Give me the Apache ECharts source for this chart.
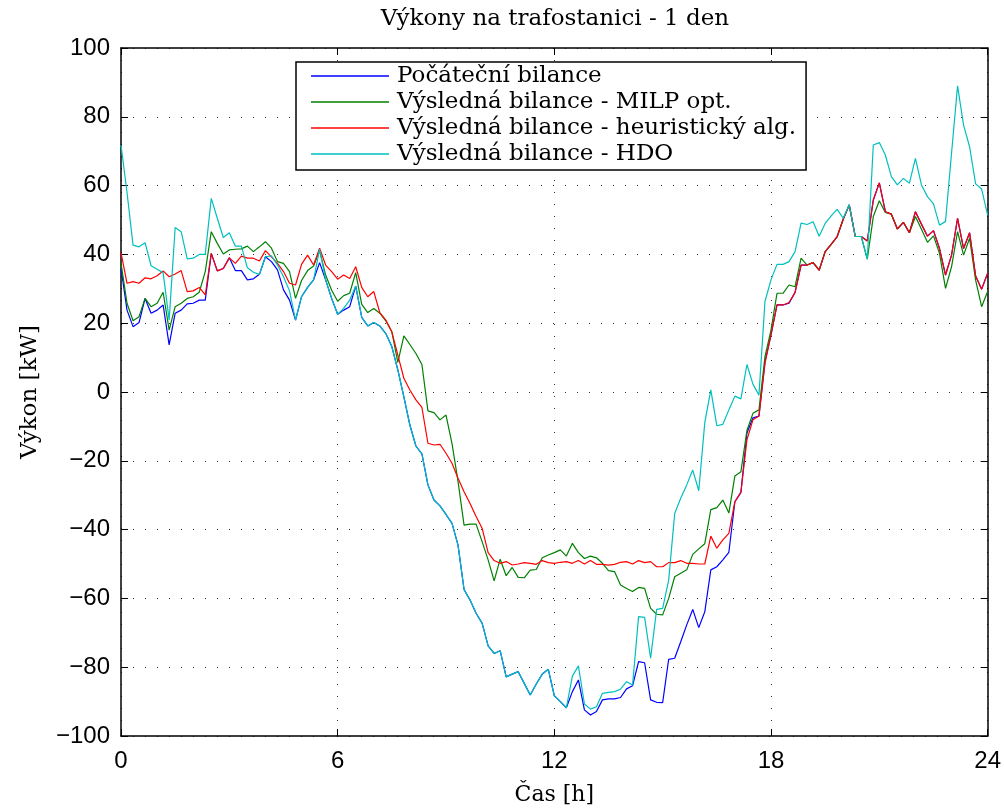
<!DOCTYPE html>
<html>
<head>
<meta charset="utf-8">
<title>Výkony na trafostanici</title>
<script src="https://cdn.jsdelivr.net/npm/echarts@6/dist/echarts.min.js"></script>
<style>
  html, body { margin: 0; padding: 0; background: #fff; }
  #chart { width: 1004px; height: 812px; }
</style>
</head>
<body>
<div id="chart"></div>
<script>
// vzorky po 10 minutach, 0 .. 24 h
const stepHours = 1 / 6;

// Počáteční bilance [kW]
const pocatecni = [
  36, 23.8, 19.0, 20.2, 27.2, 22.9, 23.8, 25.3, 13.7, 22.9,
  23.8, 25.6, 25.8, 26.7, 26.7, 40.3, 35.2, 35.9, 39.0, 35.3,
  35.3, 32.6, 32.9, 34.2, 39.3, 37.9, 35.5, 29.7, 26.7, 20.9,
  27.7, 30.4, 32.6, 37.6, 32.6, 27.2, 22.6, 23.8, 24.8, 30.8,
  21.7, 19.2, 20.2, 19.2, 17.0, 13.2, 6.4, -1.4, -9.6, -15.7,
  -18.0, -27.0, -31.4, -33.1, -35.6, -38.2, -44.5, -57.4, -60.5, -64.3,
  -67.2, -73.8, -76.0, -75.2, -82.8, -82.0, -81.3, -84.7, -88.1, -84.9,
  -82.0, -80.6, -88.3, -90.0, -91.8, -87.1, -83.7, -92.4, -93.9, -92.9,
  -89.5, -89.2, -89.2, -88.8, -86.3, -85.4, -78.4, -78.7, -89.5, -90.2,
  -90.3, -77.7, -77.4, -72.6, -67.7, -63.2, -68.5, -63.9, -51.7, -50.8,
  -48.8, -46.6, -31.9, -29.2, -12.0, -7.5, -7.0, 8.8, 16.6, 25.3,
  25.3, 25.8, 29.0, 36.9, 36.9, 37.6, 35.4, 40.8, 42.9, 45.2,
  50.2, 54.4, 45.2, 45.2, 43.9, 55.8, 60.8, 52.4, 51.7, 47.4,
  49.3, 46.3, 52.4, 48.8, 45.3, 46.9, 41.7, 34.0, 39.8, 50.5,
  41.7, 46.3, 33.7, 29.9, 34.5
];

// Výsledná bilance - MILP opt.
const milp = [
  37.5, 25.8, 20.7, 21.9, 27.2, 24.8, 25.8, 29.0, 18.0, 24.8,
  25.8, 27.2, 27.7, 29.0, 35.0, 46.6, 43.2, 40.1, 41.3, 41.5,
  41.6, 42.4, 40.8, 42.2, 43.7, 41.8, 37.9, 37.4, 35.0, 27.2,
  32.4, 35.3, 36.6, 41.1, 34.0, 29.6, 26.4, 28.0, 28.7, 34.7,
  25.5, 23.1, 24.3, 22.9, 20.7, 17.5, 8.6, 16.3, 13.8, 11.2,
  8.0, -5.5, -6.0, -8.1, -6.7, -15.0, -26.0, -38.7, -38.4, -38.4,
  -43.5, -48.8, -54.9, -48.6, -53.4, -51.0, -53.9, -54.0, -51.8, -51.6,
  -48.2, -47.4, -46.7, -45.9, -47.7, -44.0, -46.7, -48.4, -47.7, -48.2,
  -49.8, -51.9, -52.2, -56.1, -57.1, -58.0, -56.8, -57.1, -62.9, -64.6,
  -64.8, -60.0, -53.7, -52.7, -51.7, -47.2, -45.6, -44.1, -34.2, -33.6,
  -31.4, -35.2, -24.4, -23.2, -11.2, -6.2, -5.2, 10.3, 18.0, 28.7,
  28.7, 31.1, 30.6, 38.9, 36.9, 37.6, 35.4, 40.8, 42.9, 45.2,
  50.2, 54.4, 45.2, 45.2, 38.6, 51.0, 55.6, 52.2, 51.7, 47.4,
  49.3, 46.3, 51.0, 47.3, 43.5, 45.4, 40.3, 30.1, 36.4, 46.6,
  39.8, 44.7, 32.5, 24.8, 29.2
];

// Výsledná bilance - heuristický alg.
const heuristika = [
  40.5, 31.6, 32.1, 31.6, 33.2, 32.9, 33.8, 35.2, 33.5, 34.3,
  35.3, 29.2, 29.4, 30.4, 28.2, 40.3, 35.2, 35.9, 39.0, 37.4,
  39.5, 38.9, 38.9, 38.1, 41.1, 39.3, 37.4, 35.0, 31.6, 31.1,
  37.1, 39.8, 36.9, 41.8, 36.9, 35.0, 32.8, 34.0, 33.0, 36.4,
  30.4, 27.7, 29.2, 23.1, 20.9, 17.5, 10.7, 4.0, 0.6, -2.3,
  -4.5, -14.9, -15.4, -15.2, -17.8, -20.7, -25.1, -29.0, -32.4, -36.2,
  -39.6, -46.7, -49.0, -49.8, -49.3, -50.3, -50.0, -49.6, -49.8, -50.1,
  -49.0, -49.6, -49.8, -49.5, -49.3, -49.8, -49.0, -50.0, -49.0, -50.1,
  -50.1, -50.3, -50.1, -49.5, -49.3, -50.0, -49.0, -49.6, -49.3, -50.8,
  -50.8, -49.6, -49.6, -49.0, -49.8, -49.8, -50.0, -50.0, -41.9, -45.4,
  -43.0, -41.1, -31.9, -29.2, -13.9, -8.1, -7.0, 8.3, 16.6, 25.3,
  25.3, 26.0, 28.9, 36.9, 36.9, 37.6, 35.4, 40.8, 42.9, 45.2,
  50.2, 54.4, 45.2, 45.2, 43.9, 55.8, 60.8, 52.4, 51.7, 47.4,
  49.3, 46.3, 52.4, 48.8, 45.3, 46.9, 41.7, 34.0, 39.8, 50.5,
  41.7, 46.3, 33.7, 29.9, 34.5
];

// Výsledná bilance - HDO
const hdo = [
  71.8, 58, 42.7, 42.2, 43.4, 36.7, 35.7, 34.7, 20.9, 47.8,
  46.6, 38.7, 38.9, 40.0, 40.0, 56.3, 50.5, 44.9, 46.3, 42.4,
  42.4, 36.1, 34.8, 34.2, 39.3, 39.6, 36.9, 33.5, 29.4, 20.9,
  27.7, 30.4, 32.6, 41.5, 32.6, 27.2, 22.6, 24.3, 26.7, 30.8,
  21.7, 19.2, 20.2, 19.2, 17.0, 13.2, 6.4, -1.4, -9.6, -15.7,
  -18.0, -27.0, -31.4, -33.1, -35.6, -38.2, -44.5, -57.4, -60.5, -64.3,
  -67.2, -73.8, -76.0, -75.2, -82.8, -82.0, -81.3, -84.7, -88.1, -84.9,
  -82.0, -80.6, -88.3, -90.0, -91.8, -82.6, -79.6, -90.7, -92.2, -91.5,
  -87.6, -87.3, -87.1, -86.4, -84.2, -85.2, -65.3, -65.5, -77.4, -63.2,
  -62.9, -54.7, -35.3, -30.9, -27.0, -22.7, -28.7, -8.9, 0.6, -9.8,
  -9.4, -5.2, -1.2, -2.0, 8.0, 2.3, -0.9, 26.3, 32.6, 37.1,
  37.1, 37.9, 40.8, 49.1, 48.7, 49.5, 45.3, 49.0, 51.2, 53.1,
  50.5, 54.4, 45.2, 45.2, 38.6, 71.8, 72.5, 68.9, 62.6, 60.2,
  62.1, 60.7, 67.9, 60.2, 56.8, 54.7, 48.5, 49.6, 69.4, 89.0,
  77.6, 71.3, 60.5, 59.0, 51.4
];

const seriesNames = [
  'Počáteční bilance',
  'Výsledná bilance - MILP opt.',
  'Výsledná bilance - heuristický alg.',
  'Výsledná bilance - HDO'
];
const seriesColors = ['#0000ff', '#008000', '#ff0000', '#00bfbf'];
const xTicks = [0, 6, 12, 18, 24];
const yTicks = [-100, -80, -60, -40, -20, 0, 20, 40, 60, 80, 100];

const serif = 'DejaVu Serif';
const sans = 'Liberation Sans, Arial, sans-serif';

// dvojice [cas, hodnota]
function toPairs(values) {
  return values.map((v, i) => [i * stepHours, v]);
}

const chart = echarts.init(document.getElementById('chart'));

const gridDots = { color: '#333', width: 1, type: [1, 11] };
// ramecek kolem grafu - osy nesmi skakat na nulu
const boxLine = { show: true, onZero: false, lineStyle: { color: '#000', width: 1.5 } };
const innerTick = { show: true, inside: true, length: 7, lineStyle: { color: '#000', width: 1 } };

const option = {
  animation: false,
  backgroundColor: '#fff',
  title: {
    text: 'Výkony na trafostanici - 1 den',
    left: 555,
    top: 8,
    padding: 0,
    textAlign: 'center',
    textStyle: { fontFamily: serif, fontSize: 23, fontWeight: 'normal', color: '#000' }
  },
  grid: { left: 121, top: 48, right: 15, bottom: 76, containLabel: false },
  legend: {
    orient: 'vertical',
    left: 296,
    top: 62,
    padding: [1, 10, 3, 15],
    itemGap: 0,
    itemWidth: 78,
    itemHeight: 1.5,
    icon: 'rect',
    borderColor: '#000',
    borderWidth: 1.5,
    backgroundColor: '#fff',
    data: seriesNames,
    textStyle: { fontFamily: serif, fontSize: 23, lineHeight: 26, color: '#000', padding: [0, 0, 0, 3] }
  },
  xAxis: [
    {
      type: 'value',
      min: xTicks[0],
      max: xTicks[xTicks.length - 1],
      interval: 6,
      position: 'bottom',
      name: 'Čas [h]',
      nameLocation: 'middle',
      nameGap: 48,
      nameTextStyle: { fontFamily: serif, fontSize: 22, color: '#000' },
      axisLine: boxLine,
      axisTick: innerTick,
      axisLabel: { fontFamily: sans, fontSize: 24, color: '#000', margin: 13 },
      splitLine: { show: true, lineStyle: gridDots }
    },
    {
      type: 'value',
      min: xTicks[0],
      max: xTicks[xTicks.length - 1],
      interval: 6,
      position: 'top',
      axisLine: boxLine,
      axisTick: innerTick,
      axisLabel: { show: false },
      splitLine: { show: false }
    }
  ],
  yAxis: [
    {
      type: 'value',
      min: yTicks[0],
      max: yTicks[yTicks.length - 1],
      interval: 20,
      position: 'left',
      name: 'Výkon [kW]',
      nameLocation: 'middle',
      nameRotate: 90,
      nameGap: 79,
      nameTextStyle: { fontFamily: serif, fontSize: 23, color: '#000' },
      axisLine: boxLine,
      axisTick: innerTick,
      axisLabel: {
        fontFamily: sans, fontSize: 24, color: '#000', margin: 11,
        formatter: v => String(v).replace('-', '\u2212')
      },
      splitLine: { show: true, lineStyle: gridDots }
    },
    {
      type: 'value',
      min: yTicks[0],
      max: yTicks[yTicks.length - 1],
      interval: 20,
      position: 'right',
      axisLine: boxLine,
      axisTick: innerTick,
      axisLabel: { show: false },
      splitLine: { show: false }
    }
  ],
  series: [pocatecni, milp, heuristika, hdo].map((vals, i) => ({
    name: seriesNames[i],
    type: 'line',
    xAxisIndex: 0,
    yAxisIndex: 0,
    data: toPairs(vals),
    showSymbol: false,
    symbol: 'none',
    color: seriesColors[i],
    lineStyle: { color: seriesColors[i], width: 1.2 },
    emphasis: { disabled: true }
  }))
};

chart.setOption(option);
</script>
</body>
</html>
